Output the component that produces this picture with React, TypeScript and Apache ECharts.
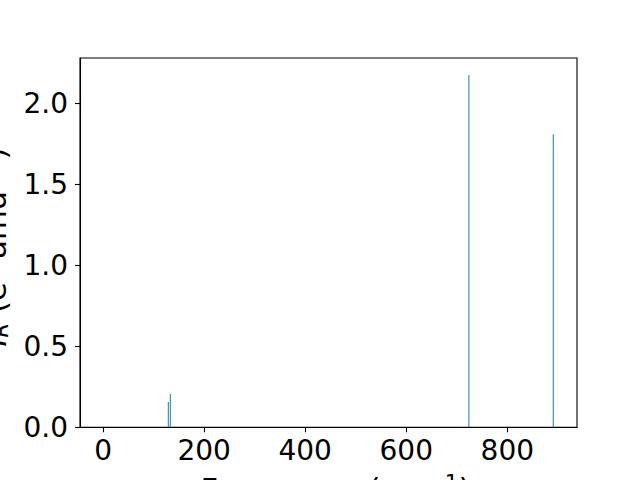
import React, { useEffect, useRef } from "react";
import * as echarts from "echarts";

const frequencies = [129, 133, 724, 891];
const intensities = [0.156, 0.205, 2.175, 1.81];
const xTicks = [0, 200, 400, 600, 800];
const yTicks = [0, 0.5, 1.0, 1.5, 2.0];

const FONT = "DejaVu Sans";

export default function App() {
  const ref = useRef<HTMLDivElement>(null);
  useEffect(() => {
    if (!ref.current) return;
    const chart = echarts.init(ref.current, undefined, { renderer: "svg" });
    const data = frequencies.map((f, i) => [f, intensities[i]]);
    chart.setOption({
      animation: false,
      backgroundColor: "#fff",
      grid: {
        left: 80,
        right: 63,
        top: 58,
        bottom: 52.7,
        show: true,
        borderColor: "#000",
        borderWidth: 1.1,
        backgroundColor: "transparent",
      },
      xAxis: {
        type: "value",
        min: -45.8,
        max: 938,
        axisLine: { show: true, onZero: false, lineStyle: { color: "#000", width: 1.1 } },
        axisTick: { show: true, customValues: xTicks, length: 5, lineStyle: { color: "#000", width: 1.1 } },
        axisLabel: {
          customValues: xTicks,
          color: "#000",
          fontFamily: FONT,
          fontSize: 28,
          margin: 9,
        },
        splitLine: { show: false },
      },
      yAxis: {
        type: "value",
        min: 0,
        max: 2.28,
        axisLine: { show: true, onZero: false, lineStyle: { color: "#000", width: 1.1 } },
        axisTick: { show: true, customValues: yTicks, length: 5, lineStyle: { color: "#000", width: 1.1 } },
        axisLabel: {
          customValues: yTicks,
          formatter: (v: number) => v.toFixed(1),
          color: "#000",
          fontFamily: FONT,
          fontSize: 28,
          margin: 12,
        },
        splitLine: { show: false },
      },
      series: [
        {
          type: "bar",
          data,
          barWidth: 1,
          itemStyle: { color: "#1f77b4" },
        },
      ],
      graphic: [
        {
          type: "text",
          x: 335.5,
          y: 489,
          style: {
            text: "Frequency (cm{sup|−1})",
            fill: "#000",
            font: `30.6px '${FONT}'`,
            align: "center",
            verticalAlign: "middle",
            rich: {
              sup: { fontSize: 21.4, fontFamily: FONT, fill: "#000", padding: [0, 0, 14, 0] },
            },
          },
        },
        {
          type: "text",
          x: -4.6,
          y: 247,
          rotation: Math.PI / 2,
          style: {
            text: "{it|I}{sub|R} (e{sup|2} amu{sup|−1})",
            fill: "#000",
            font: `30.6px '${FONT}'`,
            align: "center",
            verticalAlign: "middle",
            rich: {
              it: { fontSize: 30.6, fontFamily: FONT, fontStyle: "italic", fill: "#000" },
              sub: { fontSize: 21.4, fontFamily: FONT, fontStyle: "italic", fill: "#000", padding: [10, 0, 0, 0] },
              sup: { fontSize: 21.4, fontFamily: FONT, fill: "#000", padding: [0, 0, 14, 0] },
            },
          },
        },
      ],
    });
    return () => chart.dispose();
  }, []);
  return (
    <div
      ref={ref}
      style={{ position: "fixed", left: 0, top: 0, width: 640, height: 480 }}
    />
  );
}
